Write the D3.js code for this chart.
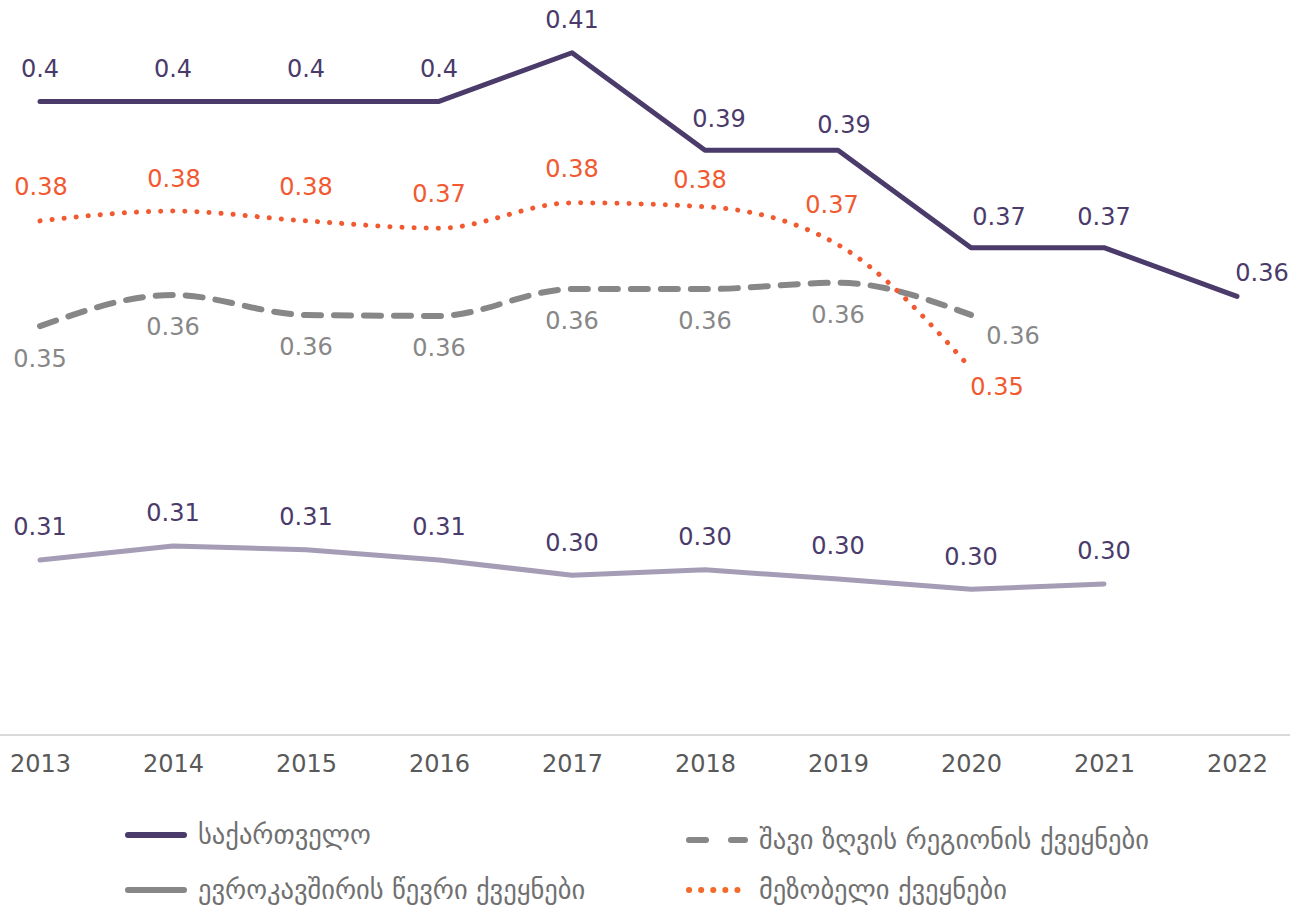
<!DOCTYPE HTML>
<html>
  <head>
    <style>
	body { margin: 0; background: #fff; }
	text { font-family: "DejaVu Sans", sans-serif; }
	</style>
  </head>
  <body>
	<script type="text/javascript" src="https://cdn.jsdelivr.net/npm/d3@7/dist/d3.min.js"></script>
    <script>

		// *** DATA ***

		var years = ['2013', '2014', '2015', '2016', '2017', '2018', '2019', '2020', '2021', '2022'];

		var georgia    = [0.400, 0.400, 0.400, 0.400, 0.410, 0.390, 0.390, 0.370, 0.370, 0.360];
		var neighbours = [0.3755, 0.3775, 0.3755, 0.3740, 0.3792, 0.3784, 0.3706, 0.3452];
		var blackSea   = [0.3539, 0.3603, 0.3562, 0.3560, 0.3615, 0.3615, 0.3628, 0.3562];
		var euMembers  = [0.3059, 0.3088, 0.3080, 0.3059, 0.3028, 0.3039, 0.3020, 0.2999, 0.3010];

		var georgiaLabels    = ['0.4', '0.4', '0.4', '0.4', '0.41', '0.39', '0.39', '0.37', '0.37', '0.36'];
		var neighbourLabels  = ['0.38', '0.38', '0.38', '0.37', '0.38', '0.38', '0.37', '0.35'];
		var blackSeaLabels   = ['0.35', '0.36', '0.36', '0.36', '0.36', '0.36', '0.36', '0.36'];
		var euLabels         = ['0.31', '0.31', '0.31', '0.31', '0.30', '0.30', '0.30', '0.30', '0.30'];

		var seriesNames = ['საქართველო', 'შავი ზღვის რეგიონის ქვეყნები', 'ევროკავშირის წევრი ქვეყნები', 'მეზობელი ქვეყნები'];

		// *** LAYOUT ***

		var W = 1290, H = 907;
		var svg = d3.select('body').append('svg')
			.attr('width', W)
			.attr('height', H);

		var x = d3.scalePoint().domain(years).range([40, 1237]);
		var y = d3.scaleLinear().domain([0.27, 0.42]).range([735, 4]);

		// baseline + year labels
		svg.append('line')
			.attr('x1', 0).attr('x2', W)
			.attr('y1', y(0.27)).attr('y2', y(0.27))
			.style('stroke', '#d9d9d9')
			.style('stroke-width', 2);

		var xAxis = svg.append('g')
			.attr('transform', 'translate(0,' + y(0.27) + ')')
			.call(d3.axisBottom(x).tickSize(0).tickPadding(20));
		xAxis.select('.domain').remove();
		xAxis.selectAll('text')
			.style('font-size', '24px')
			.style('font-family', '"DejaVu Sans", sans-serif')
			.style('fill', '#595959');

		// label nudges (dx, dy) relative to the point, per series
		var series = [
			{ vals: euMembers, labels: euLabels, color: '#a59cb5', labelColor: '#4a3b6b', width: 5, dash: null, curve: d3.curveLinear,
			  nudge: function(i){ return [0, -33]; } },
			{ vals: blackSea, labels: blackSeaLabels, color: '#878787', labelColor: '#878787', width: 6, dash: '17 13', curve: d3.curveMonotoneX,
			  nudge: function(i){ return i == 7 ? [42, 21] : [0, 32]; } },
			{ vals: neighbours, labels: neighbourLabels, color: '#f15a31', labelColor: '#f15a31', width: 5, dash: '0.1 12', curve: d3.curveMonotoneX,
			  nudge: function(i){ return [[1,-34],[1,-33],[0,-34],[0,-35],[0,-34],[-5,-27],[-6,-40],[26,18]][i]; } },
			{ vals: georgia, labels: georgiaLabels, color: '#4a3b6b', labelColor: '#4a3b6b', width: 5, dash: null, curve: d3.curveLinear,
			  nudge: function(i){ return [[0,-33],[0,-33],[0,-33],[0,-33],[0,-33],[14,-32],[6,-26],[28,-31],[0,-31],[25,-24]][i]; } }
		];

		series.forEach(function(s){
			var line = d3.line()
				.x(function(d, i){ return x(years[i]); })
				.y(function(d){ return y(d); })
				.curve(s.curve);

			svg.append('path')
				.datum(s.vals)
				.attr('d', line)
				.style('fill', 'none')
				.style('stroke', s.color)
				.style('stroke-width', s.width)
				.style('stroke-linecap', 'round')
				.style('stroke-linejoin', 'round')
				.style('stroke-dasharray', s.dash);

			svg.append('g').selectAll('text').data(s.vals)
				.enter()
				.append('text')
					.attr('x', function(d, i){ return x(years[i]) + s.nudge(i)[0]; })
					.attr('y', function(d, i){ return y(d) + s.nudge(i)[1]; })
					.attr('dy', '.35em')
					.style('text-anchor', 'middle')
					.style('font-size', '24px')
					.style('fill', s.labelColor)
					.text(function(d, i){ return s.labels[i]; });
		});

		// *** LEGEND ***

		var legendItems = [
			{ name: seriesNames[0], color: '#4a3b6b', dash: null, x: 128, y: 835 },
			{ name: seriesNames[1], color: '#878787', dash: '17 25', x: 689, y: 840 },
			{ name: seriesNames[2], color: '#878787', dash: null, x: 128, y: 890 },
			{ name: seriesNames[3], color: '#f26b2a', dash: '0.1 12', x: 689, y: 890 }
		];

		var legend = svg.append('g');
		legendItems.forEach(function(d){
			legend.append('line')
				.attr('x1', d.x).attr('x2', d.x + 56)
				.attr('y1', d.y).attr('y2', d.y)
				.style('stroke', d.color)
				.style('stroke-width', 6)
				.style('stroke-linecap', 'round')
				.style('stroke-dasharray', d.dash);
			legend.append('text')
				.attr('x', d.x + 70)
				.attr('y', d.y)
				.attr('dy', '.35em')
				.style('font-size', '26.5px')
				.style('fill', '#707070')
				.text(d.name);
		});

	</script>
  </body>
</html>
